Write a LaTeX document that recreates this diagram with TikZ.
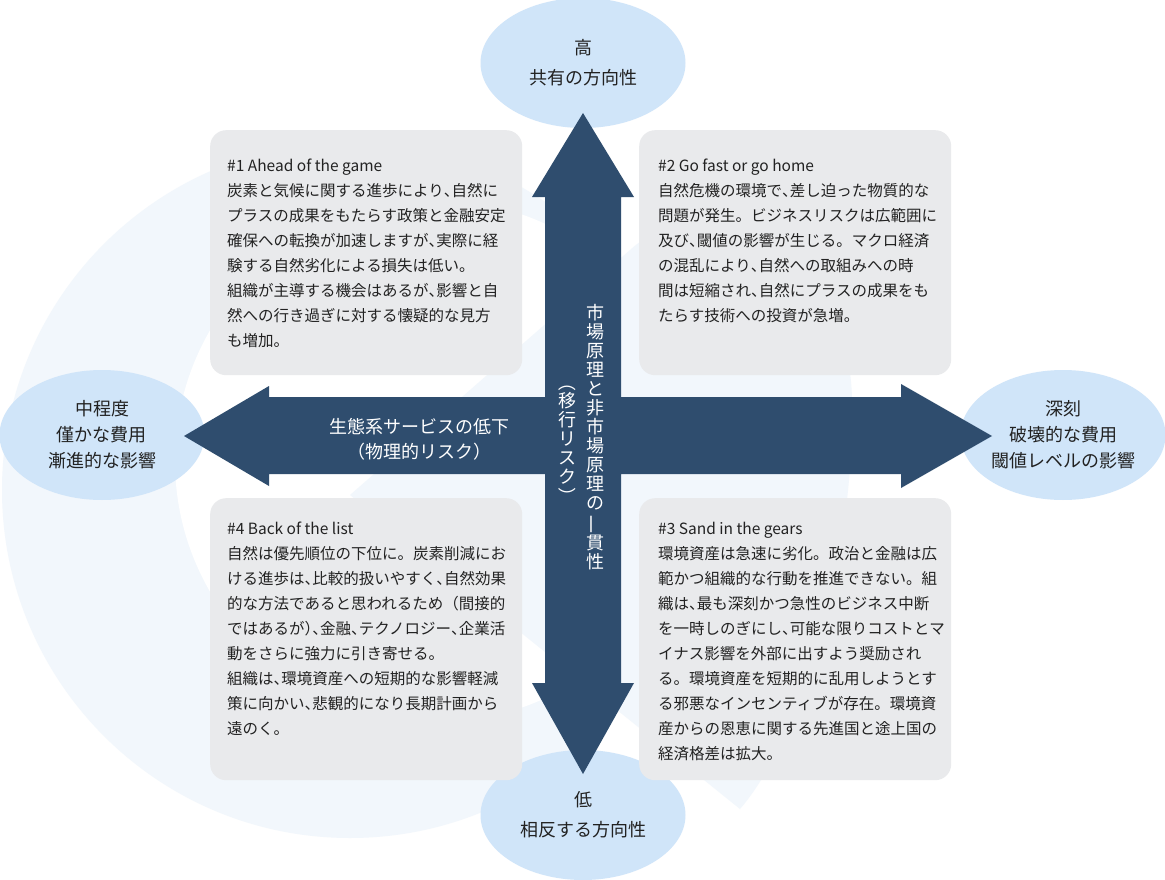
\documentclass[tikz,border=0pt]{standalone}
\usepackage{fontspec}
\setmainfont{Noto Sans CJK JP}
\usepackage{graphicx}
\usetikzlibrary{shapes.geometric}
\definecolor{arrowblue}{HTML}{2F4D6E}
\definecolor{ellblue}{HTML}{D0E5F9}
\definecolor{boxgray}{HTML}{E9EAEC}
\definecolor{faint}{HTML}{F2F7FC}
\definecolor{txt}{HTML}{222222}
\newcommand{\vrot}[2]{\rotatebox[origin=c]{#1}{#2}}
\newcommand{\tn}{\makebox[0.5em][l]{、}}
\newcommand{\rp}{\makebox[0.5em][l]{）}}
\begin{document}
\begin{tikzpicture}[x=1pt,y=-1pt,
  ell/.style={ellipse,fill=ellblue,minimum width=205pt,minimum height=130pt,inner sep=0pt,align=center,text=txt},
  ellfont/.style={font=\fontsize{18}{26}\selectfont},
  ellfonttb/.style={font=\fontsize{18}{30}\selectfont},
  card/.style={fill=boxgray,rounded corners=16pt,anchor=north west,minimum width=312pt,inner sep=0pt},
  cardtext/.style={anchor=north west,inner sep=0pt,align=left,text=txt,font=\fontsize{15.5}{25}\selectfont},
  vtext/.style={inner sep=0pt,align=center,text=white,font=\fontsize{18}{19}\selectfont},
  htext/.style={inner sep=0pt,align=center,text=white,font=\fontsize{18}{25}\selectfont},
  ]
\useasboundingbox (0,0) rectangle (1165,880);
\fill[white] (0,0) rectangle (1165,880);
% faint background
\fill[faint] (350,490) circle[radius=348];
\fill[white] (436,461) circle[radius=261];
\fill[faint] (740,809) -- (350,495) -- (630,250) .. controls (700,185) and (850,250) .. (852,400)
  .. controls (855,560) and (800,740) .. (740,809) -- cycle;
% ellipses
\node[ell,ellfonttb] (hi) at (583,63) {高\\共有の方向性};
\node[ell,ellfonttb] (lo) at (583,815) {低\\相反する方向性};
\node[ell,ellfont] (mid) at (102,435) {中程度\\僅かな費用\\漸進的な影響};
\node[ell,ellfont] (sev) at (1063,435) {深刻\\破壊的な費用\\閾値レベルの影響};
% cards
\node[card,minimum height=245pt] (b1) at (210,130) {};
\node[card,minimum height=245pt] (b2) at (639,130) {};
\node[card,minimum height=282pt] (b4) at (210,498) {};
\node[card,minimum height=282pt] (b3) at (639,498) {};
% cross arrow
\fill[arrowblue] (583,113) -- (634,197) -- (621,197) -- (621,397) -- (901,397) -- (901,384)
  -- (992,436) -- (901,488) -- (901,474) -- (621,474) -- (621,683) -- (634,683)
  -- (583,774) -- (532,683) -- (545,683) -- (545,474) -- (269,474) -- (269,486)
  -- (184,436) -- (269,386) -- (269,397) -- (545,397) -- (545,197) -- (532,197) -- cycle;
% arrow labels
\node[htext] (phys) at (419,439) {生態系サービスの低下\\（物理的リスク）};
\node[vtext] (mkt) at (595,437) {市\\場\\原\\理\\と\\非\\市\\場\\原\\理\\の\\\vrot{90}{一}\\貫\\性};
\node[vtext] (trans) at (567,439) {\vrot{-90}{（}\\移\\行\\リ\\ス\\ク\\\vrot{-90}{）}};
% card texts
\node[cardtext] (t1) at (227,159) {\#1 Ahead of the game\\
炭素と気候に関する進歩により\tn{}自然に\\
プラスの成果をもたらす政策と金融安定\\
確保への転換が加速しますが\tn{}実際に経\\
験する自然劣化による損失は低い。\\
組織が主導する機会はあるが\tn{}影響と自\\
然への行き過ぎに対する懐疑的な見方\\
も増加。};
\node[cardtext] (t2) at (658,159) {\#2 Go fast or go home\\
自然危機の環境で\tn{}差し迫った物質的な\\
問題が発生。ビジネスリスクは広範囲に\\
及び\tn{}閾値の影響が生じる。マクロ経済\\
の混乱により\tn{}自然への取組みへの時\\
間は短縮され\tn{}自然にプラスの成果をも\\
たらす技術への投資が急増。};
\node[cardtext] (t4) at (227,522) {\#4 Back of the list\\
自然は優先順位の下位に。炭素削減にお\\
ける進歩は\tn{}比較的扱いやすく\tn{}自然効果\\
的な方法であると思われるため（間接的\\
ではあるが\rp\tn{}金融\tn{}テクノロジー\tn{}企業活\\
動をさらに強力に引き寄せる。\\
組織は\tn{}環境資産への短期的な影響軽減\\
策に向かい\tn{}悲観的になり長期計画から\\
遠のく。};
\node[cardtext] (t3) at (658,522) {\#3 Sand in the gears\\
環境資産は急速に劣化。政治と金融は広\\
範かつ組織的な行動を推進できない。組\\
織は\tn{}最も深刻かつ急性のビジネス中断\\
を一時しのぎにし\tn{}可能な限りコストとマ\\
イナス影響を外部に出すよう奨励され\\
る。環境資産を短期的に乱用しようとす\\
る邪悪なインセンティブが存在。環境資\\
産からの恩恵に関する先進国と途上国の\\
経済格差は拡大。};
\end{tikzpicture}
\end{document}
